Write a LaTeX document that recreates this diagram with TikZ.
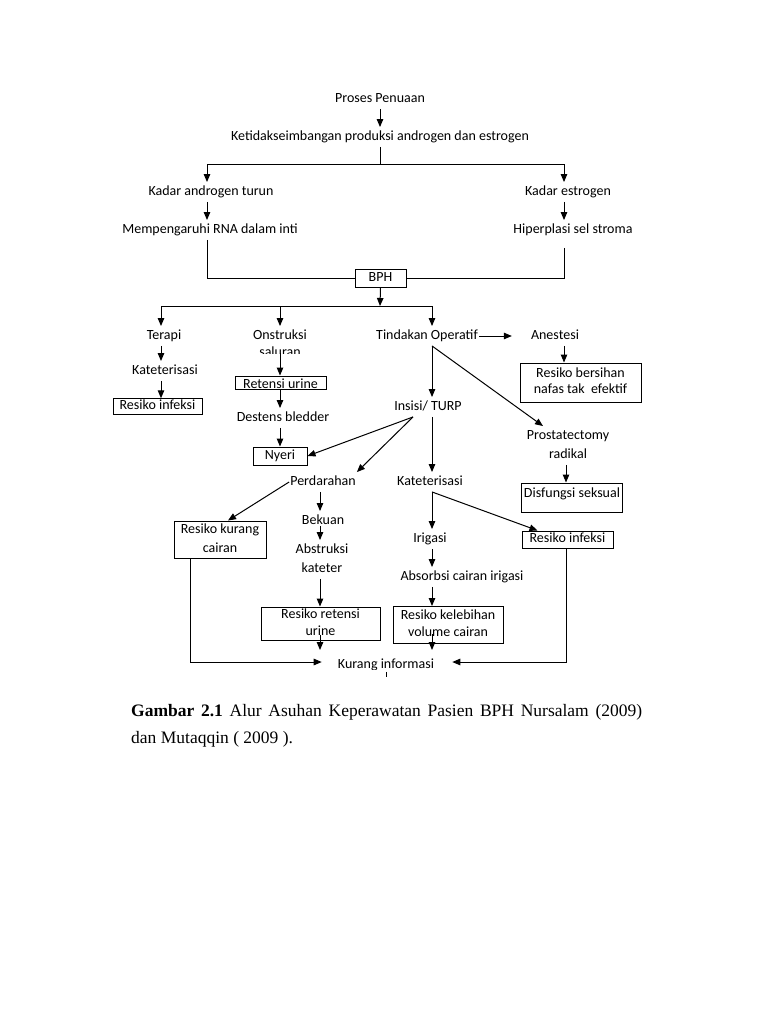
\documentclass[tikz,border=0pt]{standalone}
\usepackage{fontspec}
\setmainfont{Carlito}
\newfontfamily\capfont{Liberation Serif}
\usetikzlibrary{arrows.meta,calc}
\begin{document}
\begin{tikzpicture}[x=1pt,y=-1pt,
  font=\fontsize{14}{16}\selectfont,
  lbl/.style={inner xsep=1pt,inner ysep=3pt,text height=10pt,text depth=3.5pt},
  boxed/.style={draw=black,line width=1pt,inner xsep=2pt,inner ysep=1pt,text height=10pt,text depth=3.5pt,align=center},
  conn/.style={draw=black,line width=1pt},
  arr/.style={conn,-{Triangle[length=8pt,width=6.5pt]}},
  capstyle/.style={anchor=base west,inner sep=0pt,font=\capfont\fontsize{17.5}{27}\selectfont}]
\fill[white] (0,0) rectangle (768,1024);
\useasboundingbox (0,0) rectangle (768,1024);

% columns
\coordinate (cA) at (161,0);
\coordinate (cB) at (280,0);
\coordinate (cC) at (432,0);
\coordinate (cD) at (320,0);
\coordinate (cE) at (566,0);
\coordinate (cL) at (207,0);
\coordinate (cR) at (564,0);
\coordinate (cF) at (190,0);
\coordinate (sp1) at (380,165);
\coordinate (hb) at (380,306);
\coordinate (kin) at (0,650);

% nodes
\node[lbl] (pp) at (380,99) {Proses Penuaan};
\node[lbl] (kp) at (380,137) {Ketidakseimbangan produksi androgen dan estrogen};
\node[lbl] (kat) at (211,192) {Kadar androgen turun};
\node[lbl] (rna) at (210,230) {Mempengaruhi RNA dalam inti};
\node[lbl] (kes) at (568,192) {Kadar estrogen};
\node[lbl] (hip) at (573,230) {Hiperplasi sel stroma};
\node[boxed,minimum width=51pt,minimum height=18pt] (bph) at (380.5,278) {BPH};

\node[lbl] (ter) at (164,336) {Terapi};
\node[lbl] (kt1) at (165,371) {Kateterisasi};
\node[boxed,minimum width=89pt,minimum height=15.5pt] (ri1) at (157.5,406.5) {Resiko infeksi};

\node[lbl] (ons) at (280,336) {Onstruksi};
\begin{scope}
\clip (230,340) rectangle (330,353.5);
\node[lbl] (sal) at (280,353) {saluran};
\end{scope}
\node[boxed,minimum width=91pt,minimum height=13pt,inner ysep=0pt,text height=12pt,text depth=1pt] (ret) at (280.5,382.5) {Retensi urine};
\node[lbl] (des) at (283,418) {Destens bledder};
\node[boxed,minimum width=54pt,minimum height=18pt] (nye) at (280,456) {Nyeri};

\node[lbl] (tin) at (427,336) {Tindakan Operatif};
\node[lbl] (ane) at (555,336) {Anestesi};
\node[boxed,minimum width=121pt,minimum height=39pt,text height=26pt] (rbn) at (580.5,382.5) {Resiko bersihan\\nafas tak~ efektif};
\node[lbl] (ins) at (428,407) {Insisi/ TURP};
\node[lbl] (pro) at (568,436) {Prostatectomy};
\node[lbl] (rad) at (568,455) {radikal};
\node[boxed,minimum width=100pt,minimum height=29pt,inner ysep=2pt,text height=12pt,text depth=13pt] (dis) at (572,497.5) {Disfungsi seksual};

\node[lbl] (per) at (323,482) {Perdarahan};
\node[lbl] (kt2) at (430,482) {Kateterisasi};
\node[boxed,minimum width=92pt,minimum height=37pt,text height=29pt,font=\fontsize{14}{19}\selectfont] (rkc) at (220,539.5) {Resiko kurang\\cairan};
\node[lbl] (bek) at (323,521) {Bekuan};
\node[lbl,align=center,text height=29pt,font=\fontsize{14}{19}\selectfont] (abs) at (322,559.5) {Abstruksi\\kateter};
\node[boxed,minimum width=119pt,minimum height=33pt,text height=27pt,font=\fontsize{14}{17}\selectfont] (rru) at (320.5,623.5) {Resiko retensi\\urine};
\node[lbl] (iri) at (430,539) {Irigasi};
\node[lbl] (abo) at (462,577) {Absorbsi cairan irigasi};
\node[boxed,minimum width=110pt,minimum height=37pt,text height=27pt,font=\fontsize{14}{17}\selectfont] (rkv) at (448,625) {Resiko kelebihan\\volume cairan};
\node[boxed,minimum width=91pt,minimum height=17pt] (ri2) at (567.5,539.5) {Resiko infeksi};
\begin{scope}
\clip (300,640) rectangle (480,669.5);
\node[lbl] (kur) at (386,665) {Kurang informasi};
\end{scope}

% connectors: top part
\draw[arr] (pp) -- (kp);
\draw[conn] (kp.south) -- (sp1);
\draw[arr] (sp1) -| (cL |- kat.north);
\draw[arr] (sp1) -| (cR |- kes.north);
\draw[arr] (cL |- kat.south) -- (cL |- rna.north);
\draw[arr] (cR |- kes.south) -- (cR |- hip.north);
\draw[conn] (cL |- rna.south) |- (bph.west);
\draw[conn] ($(cR |- hip.south)+(0,8)$) |- (bph.east);
\draw[arr] (bph.south) -- (hb);
\draw[conn] (cA |- hb) -- (cC |- hb);
\draw[arr] (cA |- hb) -- (cA |- ter.north);
\draw[arr] (cB |- hb) -- (cB |- ons.north);
\draw[arr] (cC |- hb) -- (cC |- tin.north);

% left branch
\draw[arr] (cA |- ter.south) -- (cA |- kt1.north);
\draw[arr] (cA |- kt1.south) -- (cA |- ri1.north);
\draw[arr] (sal.center) -- (cB |- ret.north);
\draw[arr] (cB |- ret.south) -- (cB |- des.north);
\draw[arr] (cB |- des.south) -- (cB |- nye.north);

% operative branch
\draw[arr,shorten >=18pt] (tin.east) -- (ane.west);
\draw[arr] (cR |- ane.south) -- (cR |- rbn.north);
\draw[arr] (cC |- tin.south) -- (cC |- ins.north);
\draw[arr] (cC |- tin.south) -- ($(pro.north)+(-25,0)$);
\draw[arr] ($(ins.south)+(-15,0)$) -- (nye.east);
\draw[arr] ($(ins.south)+(-15,0)$) -- (per.north east);
\draw[arr] (cC |- ins.south) -- (cC |- kt2.north);
\draw[arr] (cE |- rad.south) -- (cE |- dis.north);

% lower part
\draw[arr] (per.west) -- ($(rkc.north)+(8,0)$);
\draw[arr] (cD |- per.south) -- (cD |- bek.north);
\draw[arr] ($(cD |- bek.south)+(0,-5)$) -- (cD |- abs.north);
\draw[arr] (cD |- abs.south) -- (cD |- rru.north);
\draw[arr] ($(cD |- rru.south)+(0,-6)$) -- (cD |- kin);
\draw[arr] (cC |- kt2.south) -- (cC |- iri.north);
\draw[arr] (cC |- kt2.south) -- ($(ri2.north)+(-30,0)$);
\draw[arr] (cC |- iri.south) -- (cC |- abo.north);
\draw[arr] (cC |- abo.south) -- (cC |- rkv.north);
\draw[arr] ($(cC |- rkv.south)+(0,-10)$) -- (cC |- kin);
\draw[arr,shorten >=15pt] (cF |- rkc.south) |- ($(kur.west)+(0,-3)$);
\draw[arr,shorten >=17pt] (cE |- ri2.south) |- ($(kur.east)+(0,-3)$);
\draw[conn] ($(kur.south)+(0,-3)$) -- ($(kur.south)+(0,2)$);

% caption
\node[capstyle] (cap1) at (131,716) {\makebox[511pt][s]{\textbf{Gambar 2.1} Alur Asuhan Keperawatan Pasien BPH Nursalam (2009)}};
\node[capstyle] (cap2) at (131,743) {dan Mutaqqin ( 2009 ).};
\end{tikzpicture}
\end{document}
